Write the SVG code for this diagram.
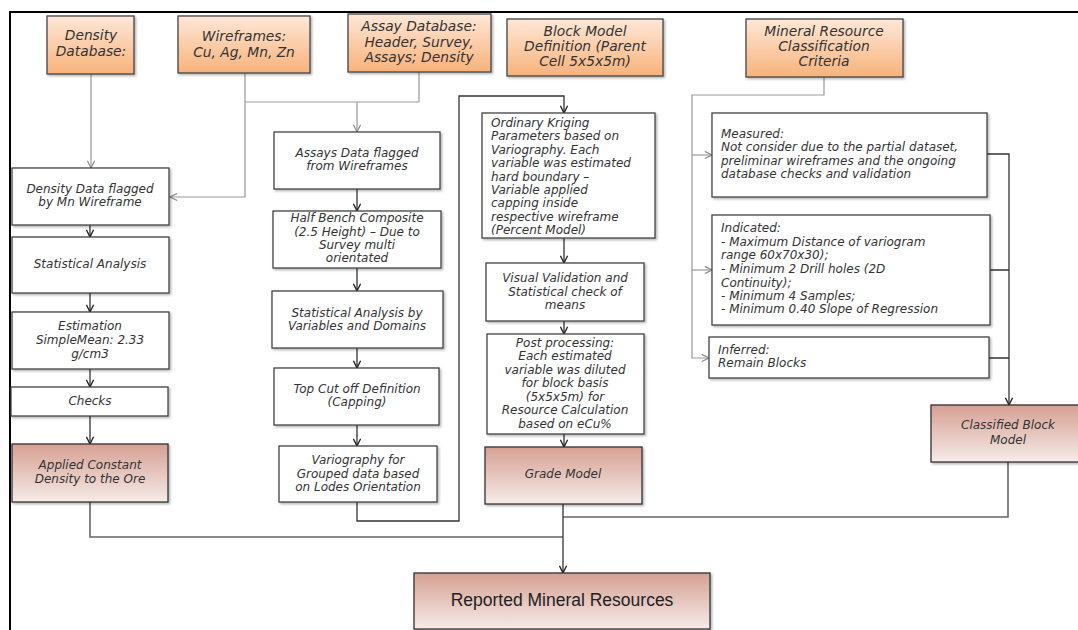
<svg xmlns="http://www.w3.org/2000/svg" width="1078" height="630" viewBox="0 0 1078 630">
<defs>
<linearGradient id="gOr" x1="0" y1="0" x2="0" y2="1"><stop offset="0" stop-color="#fee8d8"/><stop offset="1" stop-color="#f8b27a"/></linearGradient>
<linearGradient id="gPk" x1="0" y1="0" x2="0" y2="1"><stop offset="0" stop-color="#d6a093"/><stop offset="1" stop-color="#f6ebe8"/></linearGradient>
<filter id="sh" x="-5%" y="-5%" width="115%" height="120%"><feDropShadow dx="1.5" dy="1.5" stdDeviation="1" flood-color="#000" flood-opacity="0.3"/></filter>
<marker id="aG" viewBox="0 0 10 10" refX="9" refY="5" markerWidth="9" markerHeight="9" markerUnits="userSpaceOnUse" orient="auto"><path d="M1,1 L9,5 L1,9" fill="none" stroke="#888" stroke-width="1.3"/></marker>
<marker id="aD" viewBox="0 0 10 10" refX="9" refY="5" markerWidth="9" markerHeight="9" markerUnits="userSpaceOnUse" orient="auto"><path d="M1,1 L9,5 L1,9" fill="none" stroke="#222" stroke-width="1.5"/></marker>
<style>
.b{fill:#fff;stroke:#444;stroke-width:1.3;filter:url(#sh)}
.o{fill:url(#gOr);stroke:#444;stroke-width:1.3;filter:url(#sh)}
.p{fill:url(#gPk);stroke:#333;stroke-width:1.3;filter:url(#sh)}
text{font-family:"DejaVu Sans","Liberation Sans",sans-serif;fill:#333;font-style:italic}
.t{font-size:13.8px;text-anchor:middle}
.s{font-size:12px;text-anchor:middle}
.l{font-size:12px}
.r{font-family:"Liberation Sans",sans-serif;font-style:normal;font-size:17.5px;text-anchor:middle;fill:#222}
.cg{fill:none;stroke:#999;stroke-width:1.2}
.cd{fill:none;stroke:#333;stroke-width:1.3}
.cb{fill:none;stroke:#666;stroke-width:1.6}
</style>
</defs>
<path d="M10,630 V12 H1078" fill="none" stroke="#000" stroke-width="2"/>
<g id="connectors">
<path class="cg" d="M91,74 V168" marker-end="url(#aG)"/>
<path class="cg" d="M245,73 V197 H170" marker-end="url(#aG)"/>
<path class="cg" d="M245,102 H419 M419,72 V102"/>
<path class="cg" d="M357,102 V132" marker-end="url(#aG)"/>
<path class="cd" d="M90,225 V237" marker-end="url(#aD)"/>
<path class="cd" d="M90,293 V312" marker-end="url(#aD)"/>
<path class="cd" d="M90,369 V387" marker-end="url(#aD)"/>
<path class="cd" d="M90,416 V444" marker-end="url(#aD)"/>
<path class="cd" d="M357,189 V211" marker-end="url(#aD)"/>
<path class="cd" d="M357,268 V291" marker-end="url(#aD)"/>
<path class="cd" d="M357,348 V368" marker-end="url(#aD)"/>
<path class="cd" d="M357,425 V446" marker-end="url(#aD)"/>
<path class="cd" d="M357,502 V521 H459 V96 H564 V113" marker-end="url(#aD)"/>
<path class="cd" d="M564,238 V263" marker-end="url(#aD)"/>
<path class="cd" d="M564,321 V334" marker-end="url(#aD)"/>
<path class="cd" d="M564,434 V447" marker-end="url(#aD)"/>
<path class="cg" d="M824,77 V95 H692 V358 H709" marker-end="url(#aG)"/>
<path class="cg" d="M692,155 H712" marker-end="url(#aG)"/>
<path class="cg" d="M692,270 H712" marker-end="url(#aG)"/>
<path class="cd" d="M987,154 H1009 V405" marker-end="url(#aD)" stroke-width="1.8"/>
<path class="cd" d="M990,270 H1009 M989,358 H1009"/>
<path class="cb" d="M90,502 V537 H563 M1008,462 V517 H563"/>
<path class="cd" d="M563,504 V573" marker-end="url(#aD)"/>
</g>
<g id="n-density-db"><rect class="o" x="47" y="16" width="87" height="58"/><text class="t" x="91" y="40">Density</text><text class="t" x="91" y="56">Database:</text></g>
<g id="n-wireframes"><rect class="o" x="178" y="16" width="132" height="57"/><text class="t" x="244" y="41">Wireframes:</text><text class="t" x="244" y="57">Cu, Ag, Mn, Zn</text></g>
<g id="n-assay-db"><rect class="o" x="348" y="14" width="143" height="58"/><text class="t" x="419" y="31">Assay Database:</text><text class="t" x="419" y="47">Header, Survey,</text><text class="t" x="419" y="62">Assays; Density</text></g>
<g id="n-block-def"><rect class="o" x="507" y="19" width="156" height="57"/><text class="t" x="585" y="36">Block Model</text><text class="t" x="585" y="51">Definition (Parent</text><text class="t" x="585" y="66">Cell 5x5x5m)</text></g>
<g id="n-class-criteria"><rect class="o" x="746" y="19" width="157" height="58"/><text class="t" x="824" y="36">Mineral Resource</text><text class="t" x="824" y="51">Classification</text><text class="t" x="824" y="66">Criteria</text></g>
<g id="n-density-flag"><rect class="b" x="12" y="168" width="157" height="57"/><text class="s" x="90" y="193">Density Data flagged</text><text class="s" x="90" y="206">by Mn Wireframe</text></g>
<g id="n-stat1"><rect class="b" x="12" y="237" width="157" height="56"/><text class="s" x="90" y="268">Statistical Analysis</text></g>
<g id="n-estimation"><rect class="b" x="12" y="312" width="157" height="57"/><text class="s" x="90" y="330">Estimation</text><text class="s" x="90" y="344">SimpleMean: 2.33</text><text class="s" x="90" y="358">g/cm3</text></g>
<g id="n-checks"><rect class="b" x="11" y="387" width="157" height="29"/><text class="s" x="90" y="405">Checks</text></g>
<g id="n-applied"><rect class="p" x="12" y="444" width="156" height="58"/><text class="s" x="90" y="469">Applied Constant</text><text class="s" x="90" y="483">Density to the Ore</text></g>
<g id="n-assays-flag"><rect class="b" x="274" y="132" width="166" height="57"/><text class="s" x="357" y="157">Assays Data flagged</text><text class="s" x="357" y="170">from Wireframes</text></g>
<g id="n-composite"><rect class="b" x="273" y="211" width="168" height="57"/><text class="s" x="357" y="222">Half Bench Composite</text><text class="s" x="357" y="236">(2.5 Height) – Due to</text><text class="s" x="357" y="249">Survey multi</text><text class="s" x="357" y="262">orientated</text></g>
<g id="n-stat2"><rect class="b" x="272" y="291" width="171" height="57"/><text class="s" x="357" y="317">Statistical Analysis by</text><text class="s" x="357" y="330">Variables and Domains</text></g>
<g id="n-topcut"><rect class="b" x="274" y="368" width="165" height="57"/><text class="s" x="357" y="393">Top Cut off Definition</text><text class="s" x="357" y="406">(Capping)</text></g>
<g id="n-variography"><rect class="b" x="279" y="446" width="158" height="56"/><text class="s" x="358" y="464">Variography for</text><text class="s" x="358" y="478">Grouped data based</text><text class="s" x="358" y="491">on Lodes Orientation</text></g>
<g id="n-kriging"><rect class="b" x="482" y="113" width="173" height="125"/>
<text class="l" x="491" y="127">Ordinary Kriging</text><text class="l" x="491" y="140">Parameters based on</text><text class="l" x="491" y="154">Variography. Each</text><text class="l" x="491" y="167">variable was estimated</text><text class="l" x="491" y="181">hard boundary –</text><text class="l" x="491" y="194">Variable applied</text><text class="l" x="491" y="207">capping inside</text><text class="l" x="491" y="221">respective wireframe</text><text class="l" x="491" y="234">(Percent Model)</text></g>
<g id="n-validation"><rect class="b" x="486" y="263" width="158" height="58"/><text class="s" x="565" y="282">Visual Validation and</text><text class="s" x="565" y="296">Statistical check of</text><text class="s" x="565" y="309">means</text></g>
<g id="n-post"><rect class="b" x="487" y="334" width="157" height="100"/><text class="s" x="565" y="347">Post processing:</text><text class="s" x="565" y="360">Each estimated</text><text class="s" x="565" y="374">variable was diluted</text><text class="s" x="565" y="387">for block basis</text><text class="s" x="565" y="401">(5x5x5m) for</text><text class="s" x="565" y="414">Resource Calculation</text><text class="s" x="565" y="428">based on eCu%</text></g>
<g id="n-grade"><rect class="p" x="485" y="447" width="157" height="57"/><text class="s" x="563" y="478">Grade Model</text></g>
<g id="n-measured"><rect class="b" x="712" y="113" width="275" height="84"/><text class="l" x="721" y="138">Measured:</text><text class="l" x="721" y="151">Not consider due to the partial dataset,</text><text class="l" x="721" y="165">preliminar wireframes and the ongoing</text><text class="l" x="721" y="178">database checks and validation</text></g>
<g id="n-indicated"><rect class="b" x="712" y="215" width="278" height="110"/><text class="l" x="721" y="232">Indicated:</text><text class="l" x="721" y="246">- Maximum Distance of variogram</text><text class="l" x="721" y="259">range 60x70x30);</text><text class="l" x="721" y="273">- Minimum 2 Drill holes (2D</text><text class="l" x="721" y="287">Continuity);</text><text class="l" x="721" y="300">- Minimum 4 Samples;</text><text class="l" x="721" y="313">- Minimum 0.40 Slope of Regression</text></g>
<g id="n-inferred"><rect class="b" x="709" y="337" width="280" height="41"/><text class="l" x="718" y="354">Inferred:</text><text class="l" x="718" y="367">Remain Blocks</text></g>
<g id="n-classified"><rect class="p" x="931" y="405" width="156" height="57"/><text class="s" x="1008" y="429">Classified Block</text><text class="s" x="1008" y="444">Model</text></g>
<g id="n-reported"><rect class="p" x="414" y="573" width="296" height="56"/><text class="r" x="562" y="606">Reported Mineral Resources</text></g>
</svg>
